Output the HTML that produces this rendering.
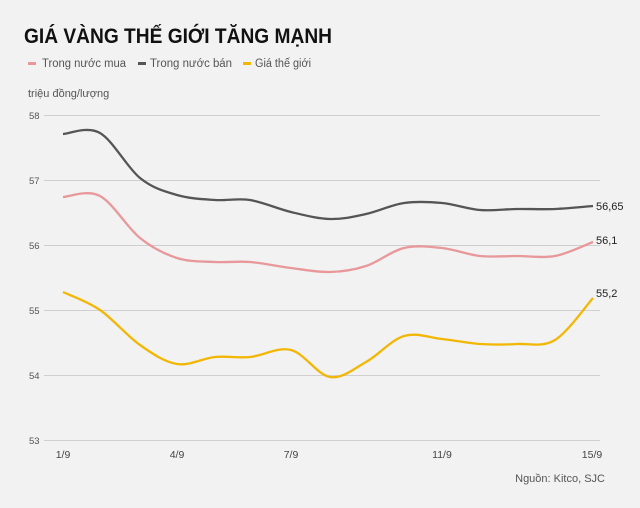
<!DOCTYPE html>
<html><head><meta charset="utf-8"><style>
body{margin:0;background:#f2f2f2;}
svg{display:block;font-family:"Liberation Sans",Arial,sans-serif;}
</style></head><body>
<svg id="s" width="640" height="508" viewBox="0 0 640 508">
<rect width="640" height="508" fill="#f2f2f2"/>
<text x="24" y="43" font-size="21" font-weight="bold" fill="#111" textLength="308" lengthAdjust="spacingAndGlyphs">GIÁ VÀNG THẾ GIỚI TĂNG MẠNH</text>
<rect x="28" y="62" width="8" height="3" fill="#e8989a"/>
<text x="42" y="67" font-size="11.5" fill="#555" textLength="84" lengthAdjust="spacingAndGlyphs">Trong nước mua</text>
<rect x="138" y="62" width="8" height="3" fill="#555"/>
<text x="150" y="67" font-size="11.5" fill="#555" textLength="82" lengthAdjust="spacingAndGlyphs">Trong nước bán</text>
<rect x="243" y="62" width="8" height="3" fill="#f2b705"/>
<text x="255" y="67" font-size="11.5" fill="#555" textLength="56" lengthAdjust="spacingAndGlyphs">Giá thế giới</text>
<text x="28" y="97" font-size="11" fill="#555">triệu đồng/lượng</text>
<g stroke="#cfcfcf" stroke-width="1">
<line x1="44" y1="115.5" x2="600" y2="115.5"/><line x1="44" y1="180.5" x2="600" y2="180.5"/>
<line x1="44" y1="245.5" x2="600" y2="245.5"/><line x1="44" y1="310.5" x2="600" y2="310.5"/>
<line x1="44" y1="375.5" x2="600" y2="375.5"/><line x1="44" y1="440.5" x2="600" y2="440.5"/>
</g>
<g font-size="9.5" fill="#555">
<text x="29" y="119">58</text><text x="29" y="184">57</text><text x="29" y="249">56</text>
<text x="29" y="314">55</text><text x="29" y="379">54</text><text x="29" y="444">53</text>
</g>
<g font-size="10.5" fill="#444" text-anchor="middle">
<text x="63" y="458">1/9</text><text x="177" y="458">4/9</text><text x="291" y="458">7/9</text>
<text x="442" y="458">11/9</text><text x="592" y="458">15/9</text>
</g>
<path id="g" fill="none" stroke="#555" stroke-width="2.3"/>
<path id="p" fill="none" stroke="#e8989a" stroke-width="2.3"/>
<path id="y" fill="none" stroke="#f2b705" stroke-width="2.3"/>
<g font-size="11" fill="#222">
<text x="596" y="210">56,65</text><text x="596" y="244">56,1</text><text x="596" y="297">55,2</text>
</g>
<text x="605" y="482" font-size="11" fill="#555" text-anchor="end">Nguồn: Kitco, SJC</text>
</svg>
<script>
var X=[63,100,140,177,215,250,291,330,366,404,442,480,517,555,593];
var D={g:[134,133,178,195,200,200,212,219,214,203,203,210,209,209,206],
p:[197,196,238,258,262,262,268,272,266,248,248,256,256,256,242],
y:[292,310,345,364,357,357,350,377,362,336,339,344,344,340,298]};
for(var k in D){var Y=D[k],d="M"+X[0]+","+Y[0];
for(var i=0;i<X.length-1;i++){var x0=X[Math.max(i-1,0)],y0=Y[Math.max(i-1,0)],x1=X[i],y1=Y[i],x2=X[i+1],y2=Y[i+1],x3=X[Math.min(i+2,X.length-1)],y3=Y[Math.min(i+2,X.length-1)];
d+=" C"+(x1+(x2-x0)/6)+","+(y1+(y2-y0)/6)+" "+(x2-(x3-x1)/6)+","+(y2-(y3-y1)/6)+" "+x2+","+y2;}
document.getElementById(k).setAttribute("d",d);}
</script>
</body></html>
